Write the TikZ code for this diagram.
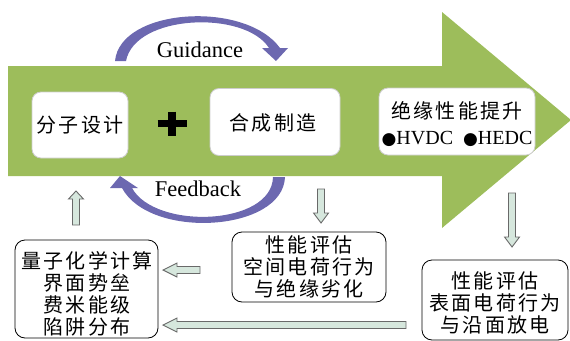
\documentclass[tikz,border=0pt]{standalone}
\usepackage{fontspec}
\setmainfont{Liberation Serif}
\newfontfamily\cjk[LetterSpace=12]{Noto Sans CJK SC}
\newfontfamily\symfont{DejaVu Sans}
\definecolor{bigGreen}{RGB}{157,189,91}
\definecolor{arcPurple}{RGB}{108,104,176}
\definecolor{boxLine}{RGB}{205,205,205}
\definecolor{blockFill}{RGB}{214,231,221}
\definecolor{blockLine}{RGB}{105,105,105}
\tikzset{
  innerbox/.style={draw=boxLine, line width=0.8pt, fill=white, rounded corners=9pt, inner sep=0pt},
  evalbox/.style={draw=black, line width=0.8pt, fill=white, rounded corners=10pt, inner sep=0pt},
  blockarrow/.style={draw=blockLine, line width=0.9pt, fill=blockFill, line join=miter},
  arcshape/.style={fill=arcPurple, draw=none},
  cjktext/.style={font=\cjk\fontsize{20}{22}\selectfont, align=center},
  cjkbox/.style={font=\cjk\fontsize{20}{22}\selectfont, align=center},
  engtext/.style={font=\fontsize{22.5}{24}\selectfont}
}
\newcommand{\bul}{{\symfont\fontsize{17}{18}\selectfont ●}}
\begin{document}
\begin{tikzpicture}[x=1pt,y=-1pt]
\useasboundingbox (0,0) rectangle (570,340);
% big green arrow
\fill[bigGreen] (8,66) -- (442,66) -- (442,12) -- (571,120) -- (442,228) -- (442,176) -- (8,176) -- cycle;
% boxes inside the arrow
\node[innerbox, minimum width=96pt, minimum height=66pt] (design) at (80,125) {};
\node[cjktext] at (design.center) {分子设计};
\node[innerbox, minimum width=130pt, minimum height=67pt] (synth) at (275,122) {};
\node[cjktext] at (273,123) {合成制造};
\node[innerbox, minimum width=156pt, minimum height=67pt] (improve) at (457,121.5) {};
\node[cjktext] at (457,111) {绝缘性能提升};
\node[font=\fontsize{20}{22}\selectfont, inner sep=0pt] at (457,139) {\bul HVDC\ \ \bul HEDC};
% plus sign
\node (plus) at (172,123.5) {};
\draw[line width=7.5pt] ([xshift=-14.5pt]plus.center) -- ([xshift=14.5pt]plus.center);
\draw[line width=7.5pt] ([yshift=12pt]plus.center) -- ([yshift=-12pt]plus.center);
% guidance arc
\fill[arcshape] (115,61) .. controls (120,8) and (245,0) .. (280,48)
  -- (288,48) -- (276,61) -- (262,48) -- (269,48)
  .. controls (245,10) and (135,14) .. (126,61) -- cycle;
\node[engtext] (guid) at (200,50) {Guidance};
% feedback arc
\fill[arcshape] (285,177) .. controls (283,232) and (150,240) .. (122,188)
  -- (110,188) -- (120,176) -- (138,188) -- (132,188)
  .. controls (155,230) and (272,226) .. (273,177) -- cycle;
\node[engtext] (feed) at (198,189) {Feedback};
% lower boxes
\node[evalbox, minimum width=143pt, minimum height=98pt] (quantum) at (86.5,289) {};
\node[cjkbox] at (87,293.5) {量子化学计算\\界面势垒\\费米能级\\陷阱分布};
\node[evalbox, minimum width=154pt, minimum height=70pt] (evalspace) at (309,267) {};
\node[cjkbox] at (309,266.5) {性能评估\\空间电荷行为\\与绝缘劣化};
\node[evalbox, minimum width=146pt, minimum height=80pt] (evalsurf) at (495,300) {};
\node[cjkbox] at (495,303) {性能评估\\表面电荷行为\\与沿面放电};
% block arrows
\draw[blockarrow] (72.5,225) -- (72.5,199) -- (68.5,199) -- (76,191) -- (83.5,199) -- (79.5,199) -- (79.5,225) -- cycle;
\draw[blockarrow] (317.5,189) -- (317.5,213) -- (313.5,213) -- (321,223) -- (328.5,213) -- (324.5,213) -- (324.5,189) -- cycle;
\draw[blockarrow] (508.5,193) -- (508.5,237) -- (504.5,237) -- (512,247) -- (519.5,237) -- (515.5,237) -- (515.5,193) -- cycle;
\draw[blockarrow] (200,266.5) -- (177,266.5) -- (177,263) -- (163,270) -- (177,277) -- (177,273.5) -- (200,273.5) -- cycle;
\draw[blockarrow] (406,321.5) -- (177,321.5) -- (177,318) -- (163,325) -- (177,332) -- (177,328.5) -- (406,328.5) -- cycle;
\end{tikzpicture}
\end{document}
